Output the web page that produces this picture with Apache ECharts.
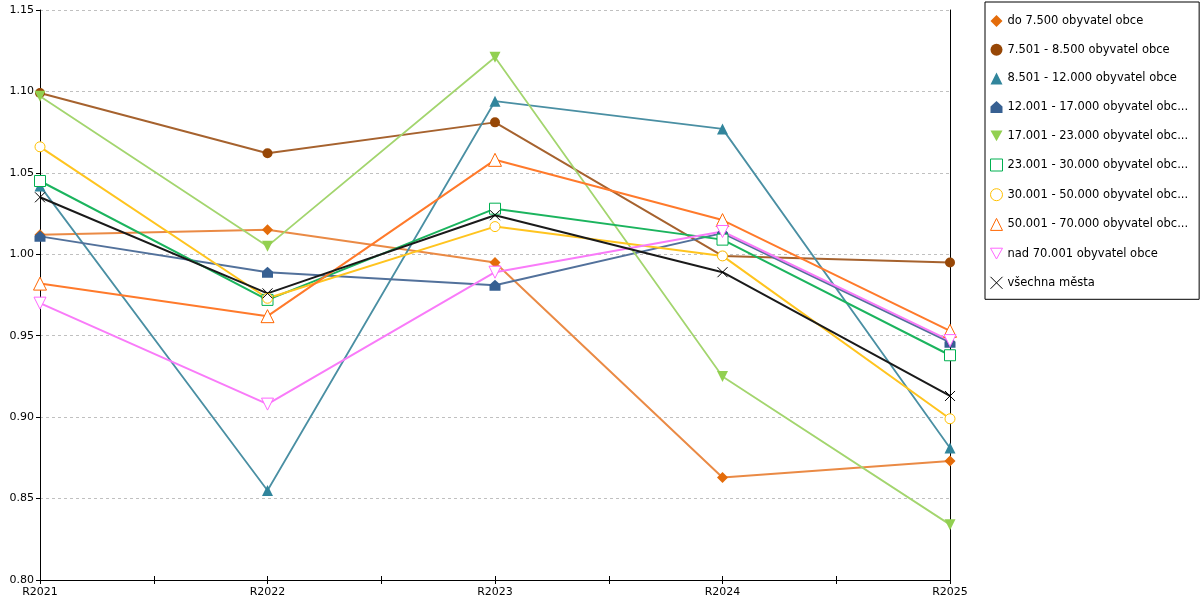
<!DOCTYPE html>
<html>
	<head>
		<title>Index obcí</title>
		<meta charset="utf-8"/>
		<style type="text/css">
			*{margin: 0;padding: 0;}
			html,body{
				width: 100%;
				height: 100%;
				background-color: #fff;
			}
			.charts{
				width: 1200px;
				height: 600px;
			}
		</style>
		<script type="text/javascript" src="https://cdn.jsdelivr.net/npm/echarts@6/dist/echarts.min.js"></script>
	</head>
	<body>
		<div class="charts js-main"></div>
		<script type="text/javascript">
			// kategorie na ose x
			var roky=["R2021","R2022","R2023","R2024","R2025"];
			// popisky osy y
			var osaMin=0.80,osaMax=1.15,osaKrok=0.05;
			// hodnoty podle velikosti obce
			var do7500=[1.012,1.015,0.995,0.863,0.873];
			var od7501=[1.099,1.062,1.081,0.999,0.995];
			var od8501=[1.042,0.855,1.094,1.077,0.881];
			var od12001=[1.011,0.989,0.981,1.013,0.946];
			var od17001=[1.097,1.005,1.121,0.925,0.834];
			var od23001=[1.045,0.972,1.028,1.009,0.938];
			var od30001=[1.066,0.973,1.017,0.999,0.899];
			var od50001=[0.982,0.962,1.058,1.021,0.953];
			var nad70001=[0.970,0.908,0.989,1.014,0.947];
			var vsechna=[1.035,0.976,1.024,0.989,0.913];
			var nazvy=["do 7.500 obyvatel obce","7.501 - 8.500 obyvatel obce","8.501 - 12.000 obyvatel obce",
				"12.001 - 17.000 obyvatel obce","17.001 - 23.000 obyvatel obce","23.001 - 30.000 obyvatel obce",
				"30.001 - 50.000 obyvatel obce","50.001 - 70.000 obyvatel obce","nad 70.001 obyvatel obce","všechna města"];

			var font="DejaVu Sans";
			var domek="path://M5,0L10,4.5L10,10L0,10L0,4.5Z";
			var dolu="path://M0,0L10,0L5,9Z";
			var krizek="path://M0,0L10,10M10,0L0,10";
			// vzhled jednotlivych rad
			var styly=[
				{data:do7500,znak:"diamond",vel:11,barva:"#E46C0A",cara:"#EA8A45",sirka:2},
				{data:od7501,znak:"circle",vel:10,barva:"#974706",cara:"#A6622E",sirka:2},
				{data:od8501,znak:"triangle",vel:11,barva:"#31859C",cara:"#4A8FA3",sirka:1.8},
				{data:od12001,znak:domek,vel:11,barva:"#376092",cara:"#52719B",sirka:2},
				{data:od17001,znak:dolu,vel:11,barva:"#92D050",cara:"#A3D56E",sirka:1.8},
				{data:od23001,znak:"rect",vel:11,barva:"#00B050",cara:"#1BB45E",sirka:2,obrys:true},
				{data:od30001,znak:"circle",vel:10,barva:"#FFC000",cara:"#FFC41F",sirka:2,obrys:true},
				{data:od50001,znak:"triangle",vel:13,barva:"#FF6600",cara:"#FF7A2B",sirka:2,obrys:true},
				{data:nad70001,znak:dolu,vel:12,barva:"#FF66FF",cara:"#F97BF9",sirka:2,obrys:true},
				{data:vsechna,znak:krizek,vel:10,barva:"#000000",cara:"#1a1a1a",sirka:2,obrys:true,pruhledny:true}
			];

			// pul-kroky pro znacky na ose x
			var pulRoky=[];
			for(var k=0;k<roky.length;k++){
				if(k>0){pulRoky.push("");}
				pulRoky.push(roky[k]);
			}

			var serie=[],legendData=[];
			for(var i=0;i<styly.length;i++){
				var s=styly[i];
				var item={color:s.barva,borderWidth:0};
				if(s.obrys){item={color:s.pruhledny?"transparent":"#fff",borderColor:s.barva,borderWidth:1};}
				serie.push({
					name:nazvy[i],
					type:"line",
					data:s.data,
					symbol:s.znak,
					symbolSize:s.vel,
					showAllSymbol:true,
					itemStyle:item,
					lineStyle:{color:s.cara,width:s.sirka},
					emphasis:{disabled:true}
				});
				legendData.push({name:nazvy[i],icon:s.znak,itemStyle:item});
			}

			var mainChart=echarts.init(document.querySelector(".js-main"));
			mainChart.setOption({
				animation:false,
				textStyle:{fontFamily:font},
				grid:{left:40,right:250,top:10,bottom:20,containLabel:false},
				legend:{
					orient:"vertical",
					left:985,
					top:2,
					padding:[13,11,10,5],
					borderColor:"#000",
					borderWidth:1,
					itemWidth:12,
					itemHeight:12,
					itemGap:16.7,
					textStyle:{fontFamily:font,fontSize:11.5,color:"#000",width:187},
					// jako v puvodnim grafu: dlouhe nazvy jsou zkracene
					formatter:function(name){
						return name.length>28?name.slice(0,name.length-1)+"...":name;
					},
					data:legendData
				},
				xAxis:[{
					type:"category",
					data:roky,
					boundaryGap:false,
					position:"bottom",
					axisLine:{lineStyle:{color:"#000",width:1}},
					axisTick:{show:false},
					axisLabel:{color:"#000",fontFamily:font,fontSize:11,margin:7}
				},{
					type:"category",
					data:pulRoky,
					boundaryGap:false,
					position:"bottom",
					axisLine:{show:false},
					axisTick:{show:true,inside:true,length:4,interval:0,lineStyle:{color:"#000"}},
					axisLabel:{show:false}
				},{
					type:"category",
					data:pulRoky,
					boundaryGap:false,
					position:"bottom",
					axisLine:{show:false},
					axisTick:{show:true,length:4,interval:0,lineStyle:{color:"#000"}},
					axisLabel:{show:false}
				}],
				yAxis:[{
					type:"value",
					min:osaMin,
					max:osaMax,
					interval:osaKrok,
					axisLine:{show:true,lineStyle:{color:"#000"}},
					axisTick:{show:true,length:4,lineStyle:{color:"#000"}},
					axisLabel:{color:"#000",fontFamily:font,fontSize:11,margin:6,formatter:function(v){return v.toFixed(2);}},
					splitLine:{show:true,lineStyle:{color:"#C0C0C0",type:[3,3],width:1}}
				},{
					type:"value",
					position:"right",
					min:osaMin,
					max:osaMax,
					interval:osaKrok,
					axisLine:{show:true,lineStyle:{color:"#000"}},
					axisTick:{show:false},
					axisLabel:{show:false},
					splitLine:{show:false}
				}],
				series:serie
			});
		</script>
	</body>
</html>
